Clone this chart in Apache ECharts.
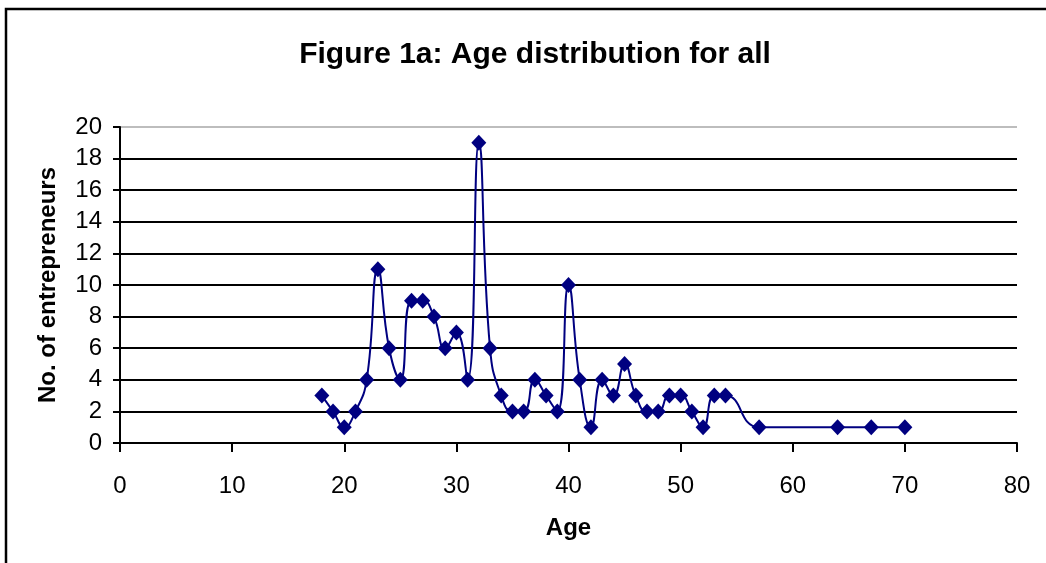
<!DOCTYPE html>
<html>
<head>
<meta charset="utf-8">
<script src="https://cdn.jsdelivr.net/npm/echarts@6/dist/echarts.min.js"></script>
<style>
  html, body { margin: 0; padding: 0; background: #fff; }
  #chart { width: 1046px; height: 563px; }
</style>
</head>
<body>
<div id="chart"></div>
<script>
// Number of entrepreneurs at each age
const ages = [18, 19, 20, 21, 22, 23, 24, 25, 26, 27, 28, 29, 30, 31, 32, 33, 34, 35, 36, 37,
              38, 39, 40, 41, 42, 43, 44, 45, 46, 47, 48, 49, 50, 51, 52, 53, 54, 57, 64, 67, 70];
const counts = [3, 2, 1, 2, 4, 11, 6, 4, 9, 9, 8, 6, 7, 4, 19, 6, 3, 2, 2, 4,
                3, 2, 10, 4, 1, 4, 3, 5, 3, 2, 2, 3, 3, 2, 1, 3, 3, 1, 1, 1, 1];

const titleText = 'Figure 1a: Age distribution for all';
const xName = 'Age';
const yName = 'No. of entrepreneurs';

const points = ages.map((a, i) => [a, counts[i]]);
const font = 'Arial, "Liberation Sans", sans-serif';

// grid lines: black, with the top one light grey like a plot-area border
const splitColors = ['#000', '#000', '#000', '#000', '#000', '#000', '#000', '#000', '#000', '#000', '#bdbdbd'];

const chart = echarts.init(document.getElementById('chart'), null, { renderer: 'canvas' });
chart.setOption({
  backgroundColor: '#fff',
  animation: false,
  title: {
    text: titleText,
    left: 530,
    top: 35,
    textAlign: 'center',
    textStyle: { fontFamily: font, fontWeight: 'bold', fontSize: 30, color: '#000' }
  },
  graphic: [{
    type: 'rect',
    shape: { x: 6, y: 9, width: 1200, height: 800 },
    style: { fill: null, stroke: '#000', lineWidth: 2.5 },
    silent: true,
    z: 100
  }],
  grid: { left: 120, right: 29, top: 127, bottom: 120 },
  xAxis: {
    type: 'value',
    min: 0, max: 80, interval: 10,
    name: xName,
    nameLocation: 'middle',
    nameGap: 73,
    nameTextStyle: { fontFamily: font, fontWeight: 'bold', fontSize: 24, color: '#000' },
    axisLine: { show: true, onZero: false, lineStyle: { color: '#000', width: 2 } },
    axisTick: { show: true, inside: false, length: 9, lineStyle: { color: '#000', width: 2 } },
    axisLabel: { fontFamily: font, fontSize: 24, color: '#000', margin: 31 },
    splitLine: { show: false }
  },
  yAxis: {
    type: 'value',
    min: 0, max: 20, interval: 2,
    name: yName,
    nameLocation: 'middle',
    nameGap: 60,
    nameTextStyle: { fontFamily: font, fontWeight: 'bold', fontSize: 24, color: '#000' },
    axisLine: { show: true, lineStyle: { color: '#000', width: 2 } },
    axisTick: { show: true, inside: false, length: 7, lineStyle: { color: '#000', width: 2 } },
    axisLabel: { fontFamily: font, fontSize: 24, color: '#000', margin: 18 },
    splitLine: { show: true, lineStyle: { color: splitColors, width: 2 } }
  },
  series: [{
    type: 'line',
    data: points,
    smooth: 0.5,
    symbol: 'diamond',
    symbolSize: [15, 16],
    showAllSymbol: true,
    lineStyle: { color: '#000080', width: 2 },
    itemStyle: { color: '#000080' },
    z: 5
  }]
});
</script>
</body>
</html>
